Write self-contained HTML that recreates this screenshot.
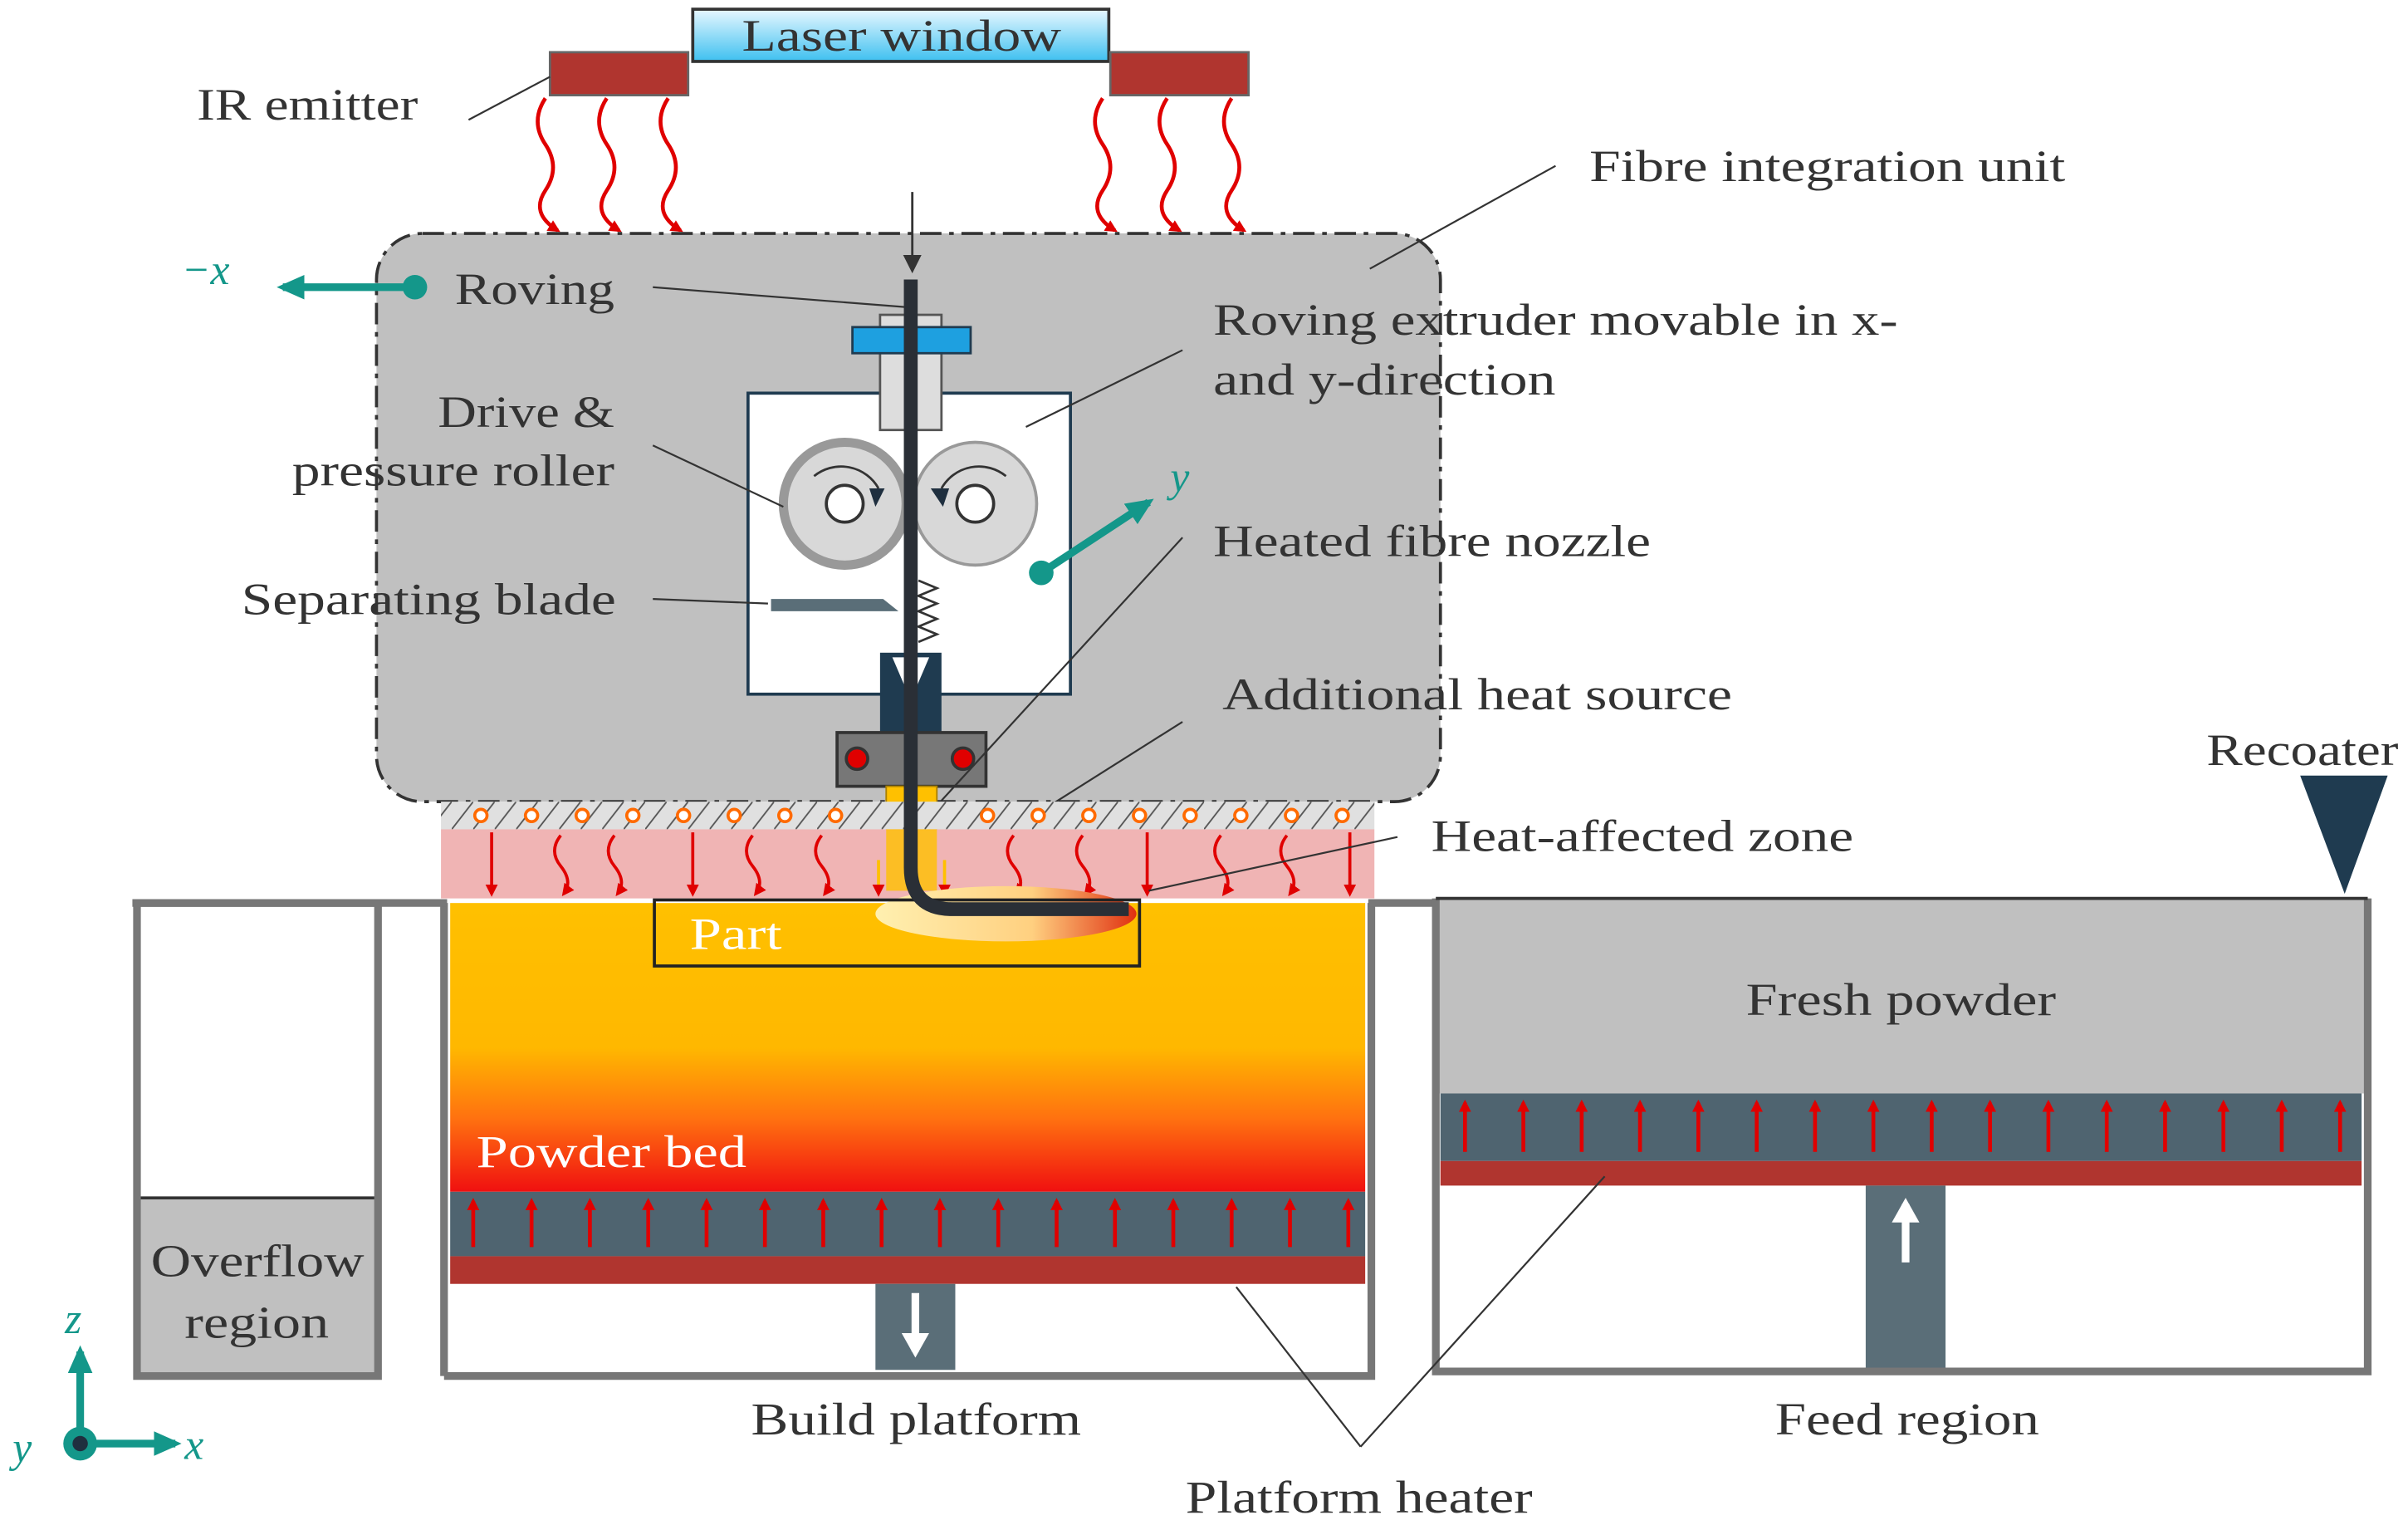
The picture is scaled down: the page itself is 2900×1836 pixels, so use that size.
<!DOCTYPE html>
<html><head><meta charset="utf-8"><style>
html,body{margin:0;padding:0;background:#fff}
svg{display:block}
text{font-family:"Liberation Serif",serif;fill:#333}
</style></head><body>
<svg width="2900" height="1836" viewBox="0 0 1568 993" xmlns="http://www.w3.org/2000/svg">
<defs>
<linearGradient id="lw" x1="0" y1="0" x2="0" y2="1"><stop offset="0" stop-color="#e8f8ff"/><stop offset="1" stop-color="#3ec0f0"/></linearGradient>
<linearGradient id="pb" x1="0" y1="0" x2="0" y2="1"><stop offset="0" stop-color="#ffc000"/><stop offset="0.5" stop-color="#ffb800"/><stop offset="0.75" stop-color="#ff7010"/><stop offset="1" stop-color="#f01010"/></linearGradient>
<linearGradient id="mp" x1="0" y1="0" x2="1" y2="0"><stop offset="0" stop-color="#fff0b0"/><stop offset="0.6" stop-color="#ffd080"/><stop offset="1" stop-color="#e03010"/></linearGradient>
<pattern id="hatch" width="14" height="18" patternUnits="userSpaceOnUse"><path d="M0,18 L14,0" stroke="#555" stroke-width="1"/></pattern>
<marker id="ar" markerWidth="8" markerHeight="8" refX="6" refY="4" orient="auto" markerUnits="userSpaceOnUse"><path d="M0,0 L8,4 L0,8z" fill="#e00000"/></marker>
<marker id="ak" markerWidth="12" markerHeight="12" refX="10" refY="6" orient="auto" markerUnits="userSpaceOnUse"><path d="M0,0 L12,6 L0,12z" fill="#333"/></marker>
<marker id="at" markerWidth="20" markerHeight="20" refX="14" refY="10" orient="auto" markerUnits="userSpaceOnUse"><path d="M0,2 L18,10 L0,18z" fill="#14978a"/></marker>
<marker id="aw" markerWidth="18" markerHeight="18" refX="12" refY="9" orient="auto" markerUnits="userSpaceOnUse"><path d="M0,0 L16,9 L0,18z" fill="#fff"/></marker>
</defs>

<rect x="451" y="6" width="271" height="34" fill="url(#lw)" stroke="#333" stroke-width="2"/>
<text x="483" y="33" font-size="29" textLength="208" lengthAdjust="spacingAndGlyphs">Laser window</text>
<rect x="358" y="34" width="90" height="28" fill="#b0352f" stroke="#666" stroke-width="1.5"/>
<rect x="723" y="34" width="90" height="28" fill="#b0352f" stroke="#666" stroke-width="1.5"/>
<g fill="none" stroke="#e00000" stroke-width="2.5" marker-end="url(#ar)">
<path d="M355,64 q-10,15 0,30 t0,30 t8,26"/>
<path d="M395,64 q-10,15 0,30 t0,30 t8,26"/>
<path d="M435,64 q-10,15 0,30 t0,30 t8,26"/>
<path d="M718,64 q-10,15 0,30 t0,30 t8,26"/>
<path d="M760,64 q-10,15 0,30 t0,30 t8,26"/>
<path d="M802,64 q-10,15 0,30 t0,30 t8,26"/>
</g>
<text x="128" y="78" font-size="29" textLength="144" lengthAdjust="spacingAndGlyphs">IR emitter</text>
<line x1="305" y1="78" x2="358" y2="50" stroke="#333" stroke-width="1.2"/>

<rect x="245" y="152" width="693" height="370" rx="30" fill="#c0c0c0" stroke="#333" stroke-width="2" stroke-dasharray="14,5,3,5"/>
<text x="1035" y="118" font-size="29" textLength="310" lengthAdjust="spacingAndGlyphs">Fibre integration unit</text>
<line x1="1013" y1="108" x2="892" y2="175" stroke="#333" stroke-width="1.2"/>

<text x="118" y="185" font-size="28" font-style="italic" style="fill:#14978a">−x</text>
<line x1="270" y1="187" x2="184" y2="187" stroke="#14978a" stroke-width="5" marker-end="url(#at)"/>
<circle cx="270" cy="187" r="8" fill="#14978a"/>

<text x="296" y="198" font-size="29" textLength="104" lengthAdjust="spacingAndGlyphs">Roving</text>
<line x1="425" y1="187" x2="590" y2="200" stroke="#333" stroke-width="1.2"/>
<line x1="594" y1="125" x2="594" y2="176" stroke="#333" stroke-width="1.5" marker-end="url(#ak)"/>

<rect x="487" y="256" width="210" height="196" fill="#fff" stroke="#1f3b50" stroke-width="2"/>
<rect x="573" y="205" width="40" height="75" fill="#ddd" stroke="#555" stroke-width="1.5"/>
<rect x="555" y="213" width="77" height="17" fill="#1ea0e0" stroke="#1f3b50" stroke-width="1.5"/>
<circle cx="550" cy="328" r="40" fill="#d8d8d8" stroke="#999" stroke-width="6"/>
<circle cx="550" cy="328" r="12" fill="#fff" stroke="#333" stroke-width="2"/>
<path d="M530,310 a28,28 0 0 1 42,8" fill="none" stroke="#333" stroke-width="1.5"/>
<path d="M566,318 l10,0 l-6,12z" fill="#1f2f3f"/>
<circle cx="635" cy="328" r="40" fill="#d8d8d8" stroke="#999" stroke-width="2"/>
<circle cx="635" cy="328" r="12" fill="#fff" stroke="#333" stroke-width="2"/>
<path d="M655,310 a28,28 0 0 0 -42,8" fill="none" stroke="#333" stroke-width="1.5"/>
<path d="M606,318 l12,0 l-4,12z" fill="#1f2f3f"/>
<path d="M502,390 L575,390 L585,398 L502,398z" fill="#5a6e78"/>
<path d="M598,378 l12,5 l-12,5 l12,5 l-12,5 l12,5 l-12,5 l12,5 l-12,5" fill="none" stroke="#333" stroke-width="1.5"/>
<rect x="573" y="425" width="40" height="70" fill="#1f3b50"/>
<path d="M581,428 l12,28 l12,-28z" fill="#fff"/>
<rect x="545" y="477" width="97" height="35" fill="#777" stroke="#333" stroke-width="2"/>
<circle cx="558" cy="494" r="7" fill="#e00000" stroke="#333" stroke-width="2"/>
<circle cx="627" cy="494" r="7" fill="#e00000" stroke="#333" stroke-width="2"/>
<rect x="577" y="512" width="33" height="35" fill="#ffc000" stroke="#aa8000"/>

<line x1="678" y1="373" x2="748" y2="327" stroke="#14978a" stroke-width="5" marker-end="url(#at)"/>
<circle cx="678" cy="373" r="8" fill="#14978a"/>
<text x="762" y="320" font-size="28" font-style="italic" style="fill:#14978a">y</text>

<text x="285" y="278" font-size="29" textLength="115" lengthAdjust="spacingAndGlyphs">Drive &amp;</text>
<text x="190" y="316" font-size="29" textLength="210" lengthAdjust="spacingAndGlyphs">pressure roller</text>
<line x1="425" y1="290" x2="510" y2="330" stroke="#333" stroke-width="1.2"/>
<text x="157" y="400" font-size="29" textLength="244" lengthAdjust="spacingAndGlyphs">Separating blade</text>
<line x1="425" y1="390" x2="500" y2="393" stroke="#333" stroke-width="1.2"/>
<text x="790" y="218" font-size="29" textLength="446" lengthAdjust="spacingAndGlyphs">Roving extruder movable in x-</text>
<text x="790" y="257" font-size="29" textLength="223" lengthAdjust="spacingAndGlyphs">and y-direction</text>
<line x1="770" y1="228" x2="668" y2="278" stroke="#333" stroke-width="1.2"/>
<text x="790" y="362" font-size="29" textLength="285" lengthAdjust="spacingAndGlyphs">Heated fibre nozzle</text>
<line x1="770" y1="350" x2="605" y2="530" stroke="#333" stroke-width="1.2"/>
<text x="796" y="462" font-size="29" textLength="332" lengthAdjust="spacingAndGlyphs">Additional heat source</text>
<line x1="770" y1="470" x2="675" y2="530" stroke="#333" stroke-width="1.2"/>
<text x="932" y="554" font-size="29" textLength="275" lengthAdjust="spacingAndGlyphs">Heat-affected zone</text>
<text x="1437" y="498" font-size="29" textLength="125" lengthAdjust="spacingAndGlyphs">Recoater</text>

<rect x="287" y="522" width="608" height="18" fill="#e0e0e0"/>
<rect x="287" y="522" width="608" height="18" fill="url(#hatch)"/>
<g fill="#fff" stroke="#ff6a00" stroke-width="2">
<circle cx="313" cy="531" r="4"/><circle cx="346" cy="531" r="4"/><circle cx="379" cy="531" r="4"/><circle cx="412" cy="531" r="4"/><circle cx="445" cy="531" r="4"/><circle cx="478" cy="531" r="4"/><circle cx="511" cy="531" r="4"/><circle cx="544" cy="531" r="4"/><circle cx="643" cy="531" r="4"/><circle cx="676" cy="531" r="4"/><circle cx="709" cy="531" r="4"/><circle cx="742" cy="531" r="4"/><circle cx="775" cy="531" r="4"/><circle cx="808" cy="531" r="4"/><circle cx="841" cy="531" r="4"/><circle cx="874" cy="531" r="4"/>
</g>
<rect x="287" y="540" width="608" height="45" fill="#f0b4b4"/>
<rect x="577" y="540" width="33" height="40" fill="#ffc000" opacity="0.8"/>
<g stroke="#e00000" stroke-width="2" fill="none" marker-end="url(#ar)">
<line x1="320" y1="542" x2="320" y2="582"/><line x1="451" y1="542" x2="451" y2="582"/><line x1="747" y1="542" x2="747" y2="582"/><line x1="879" y1="542" x2="879" y2="582"/>
<path d="M365,544 q-8,10 0,20 t2,18"/><path d="M400,544 q-8,10 0,20 t2,18"/><path d="M490,544 q-8,10 0,20 t2,18"/><path d="M535,544 q-8,10 0,20 t2,18"/><path d="M660,544 q-8,10 0,20 t2,18"/><path d="M705,544 q-8,10 0,20 t2,18"/><path d="M795,544 q-8,10 0,20 t2,18"/><path d="M838,544 q-8,10 0,20 t2,18"/>
</g>
<g stroke="#ffc000" stroke-width="2" marker-end="url(#ar)"><line x1="572" y1="560" x2="572" y2="582"/><line x1="615" y1="560" x2="615" y2="582"/></g>

<rect x="293" y="588" width="596" height="188" fill="url(#pb)"/>
<ellipse cx="655" cy="595" rx="85" ry="18" fill="url(#mp)"/>
<rect x="426" y="586" width="316" height="43" fill="none" stroke="#222" stroke-width="2"/>
<text x="449" y="618" font-size="29" textLength="60" lengthAdjust="spacingAndGlyphs" style="fill:#fff">Part</text>
<text x="310" y="760" font-size="30" textLength="176" lengthAdjust="spacingAndGlyphs" style="fill:#fff">Powder bed</text>
<path d="M593,182 L593,565 Q593,592 620,592 L735,592" fill="none" stroke="#2a2f36" stroke-width="9"/>
<line x1="910" y1="545" x2="748" y2="580" stroke="#333" stroke-width="1.2"/>
<rect x="293" y="776" width="596" height="42" fill="#4f6470"/>
<rect x="293" y="818" width="596" height="18" fill="#b0352f"/>
<g stroke="#e00000" stroke-width="2.5" marker-end="url(#ar)">
<line x1="308" y1="812" x2="308" y2="782"/><line x1="346" y1="812" x2="346" y2="782"/><line x1="384" y1="812" x2="384" y2="782"/><line x1="422" y1="812" x2="422" y2="782"/><line x1="460" y1="812" x2="460" y2="782"/><line x1="498" y1="812" x2="498" y2="782"/><line x1="536" y1="812" x2="536" y2="782"/><line x1="574" y1="812" x2="574" y2="782"/><line x1="612" y1="812" x2="612" y2="782"/><line x1="650" y1="812" x2="650" y2="782"/><line x1="688" y1="812" x2="688" y2="782"/><line x1="726" y1="812" x2="726" y2="782"/><line x1="764" y1="812" x2="764" y2="782"/><line x1="802" y1="812" x2="802" y2="782"/><line x1="840" y1="812" x2="840" y2="782"/><line x1="878" y1="812" x2="878" y2="782"/>
</g>
<rect x="570" y="836" width="52" height="56" fill="#5a6e78"/>
<line x1="596" y1="842" x2="596" y2="880" stroke="#fff" stroke-width="5" marker-end="url(#aw)"/>
<path d="M289,896 L289,588 M893,588 L893,896 L289,896" fill="none" stroke="#777" stroke-width="5"/>
<line x1="86" y1="588" x2="291" y2="588" stroke="#777" stroke-width="5"/>
<line x1="891" y1="588" x2="935" y2="588" stroke="#777" stroke-width="5"/>

<rect x="89" y="780" width="157" height="116" fill="#c0c0c0"/>
<line x1="89" y1="780" x2="246" y2="780" stroke="#333" stroke-width="2"/>
<rect x="89" y="588" width="157" height="308" fill="none" stroke="#777" stroke-width="5"/>
<text x="98" y="831" font-size="30" textLength="139" lengthAdjust="spacingAndGlyphs">Overflow</text>
<text x="120" y="871" font-size="30" textLength="94" lengthAdjust="spacingAndGlyphs">region</text>

<rect x="935" y="585" width="607" height="127" fill="#c0c0c0"/>
<rect x="938" y="712" width="600" height="44" fill="#4f6470"/>
<rect x="938" y="756" width="600" height="16" fill="#b0352f"/>
<g stroke="#e00000" stroke-width="2.5" marker-end="url(#ar)">
<line x1="954" y1="750" x2="954" y2="718"/><line x1="992" y1="750" x2="992" y2="718"/><line x1="1030" y1="750" x2="1030" y2="718"/><line x1="1068" y1="750" x2="1068" y2="718"/><line x1="1106" y1="750" x2="1106" y2="718"/><line x1="1144" y1="750" x2="1144" y2="718"/><line x1="1182" y1="750" x2="1182" y2="718"/><line x1="1220" y1="750" x2="1220" y2="718"/><line x1="1258" y1="750" x2="1258" y2="718"/><line x1="1296" y1="750" x2="1296" y2="718"/><line x1="1334" y1="750" x2="1334" y2="718"/><line x1="1372" y1="750" x2="1372" y2="718"/><line x1="1410" y1="750" x2="1410" y2="718"/><line x1="1448" y1="750" x2="1448" y2="718"/><line x1="1486" y1="750" x2="1486" y2="718"/><line x1="1524" y1="750" x2="1524" y2="718"/>
</g>
<rect x="1215" y="772" width="52" height="120" fill="#5a6e78"/>
<line x1="1241" y1="822" x2="1241" y2="784" stroke="#fff" stroke-width="5" marker-end="url(#aw)"/>
<path d="M935,585 L935,893 L1542,893 L1542,585" fill="none" stroke="#777" stroke-width="5"/>
<line x1="935" y1="585" x2="1542" y2="585" stroke="#333" stroke-width="2"/>
<path d="M1498,505 L1555,505 L1527,582z" fill="#1f3b50"/>
<text x="1137" y="661" font-size="30" textLength="202" lengthAdjust="spacingAndGlyphs">Fresh powder</text>

<text x="489" y="934" font-size="30" textLength="215" lengthAdjust="spacingAndGlyphs">Build platform</text>
<text x="1156" y="934" font-size="30" textLength="172" lengthAdjust="spacingAndGlyphs">Feed region</text>
<text x="772" y="985" font-size="30" textLength="226" lengthAdjust="spacingAndGlyphs">Platform heater</text>
<line x1="886" y1="942" x2="805" y2="838" stroke="#333" stroke-width="1.2"/>
<line x1="886" y1="942" x2="1045" y2="766" stroke="#333" stroke-width="1.2"/>

<line x1="52" y1="940" x2="52" y2="880" stroke="#14978a" stroke-width="5" marker-end="url(#at)"/>
<line x1="52" y1="940" x2="114" y2="940" stroke="#14978a" stroke-width="5" marker-end="url(#at)"/>
<circle cx="52" cy="940" r="11" fill="#14978a"/>
<circle cx="52" cy="940" r="5" fill="#1f2f3f"/>
<text x="42" y="868" font-size="28" font-style="italic" style="fill:#14978a">z</text>
<text x="120" y="950" font-size="28" font-style="italic" style="fill:#14978a">x</text>
<text x="8" y="952" font-size="28" font-style="italic" style="fill:#14978a">y</text>
</svg>
</body></html>
